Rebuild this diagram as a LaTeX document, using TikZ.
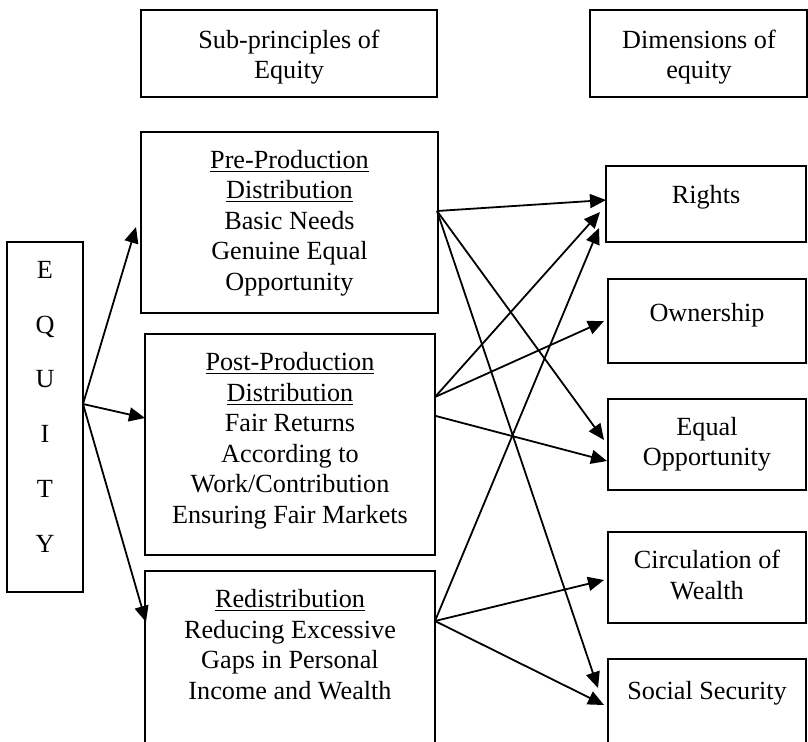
\documentclass[tikz,border=0pt]{standalone}
\usepackage{fontspec}
\setmainfont{Liberation Serif}
\usetikzlibrary{arrows.meta}
\tikzset{
  box/.style={draw, line width=1.2pt, rectangle, inner sep=0pt, outer sep=0pt},
  lbl/.style={anchor=north, inner sep=0pt, align=center, font=\fontsize{13.1pt}{15.3pt}\selectfont},
  conn/.style={line width=0.9pt, -{Triangle[length=8pt,width=7pt]}}
}
\begin{document}
\begin{tikzpicture}[x=0.5pt,y=-0.5pt]
\useasboundingbox (0,0) rectangle (808,741);
\clip (0,0) rectangle (808,741);
% boxes
\node[box, minimum width=148pt, minimum height=43.5pt] (sub) at (289,53.5) {};
\node[box, minimum width=108.5pt, minimum height=43.5pt] (dim) at (698.5,53.5) {};
\node[box, minimum width=38pt, minimum height=175pt] (eq) at (45,417) {};
\node[box, minimum width=148.5pt, minimum height=90.5pt] (pre) at (289.5,222.5) {};
\node[box, minimum width=145pt, minimum height=110.5pt] (post) at (290,444.5) {};
\node[box, minimum width=145pt, minimum height=94.5pt] (red) at (290,665.5) {};
\node[box, minimum width=100pt, minimum height=38pt] (rights) at (706,204) {};
\node[box, minimum width=99pt, minimum height=42pt] (own) at (707,321) {};
\node[box, minimum width=99pt, minimum height=45.5pt] (eqop) at (707,444.5) {};
\node[box, minimum width=99pt, minimum height=45.5pt] (circ) at (707,577.5) {};
\node[box, minimum width=99pt, minimum height=55.5pt] (soc) at (707,714.5) {};
% texts
\node[lbl] (subt) at (289,29.5) {Sub-principles of\\Equity};
\node[lbl] (dimt) at (699,29.5) {Dimensions of\\equity};
\node[lbl, font=\fontsize{13.1pt}{27.35pt}\selectfont] (eqt) at (45,261) {E\\Q\\U\\I\\T\\Y};
\node[lbl] (pret) at (289.5,149.5) {\underline{Pre-Production}\\\underline{Distribution}\\Basic Needs\\Genuine Equal\\Opportunity};
\node[lbl] (postt) at (290,352) {\underline{Post-Production}\\\underline{Distribution}\\Fair Returns\\According to\\Work/Contribution\\Ensuring Fair Markets};
\node[lbl] (redt) at (290,589) {\underline{Redistribution}\\Reducing Excessive\\Gaps in Personal\\Income and Wealth};
\node[lbl] (rightst) at (706,184.5) {Rights};
\node[lbl] (ownt) at (707,303) {Ownership};
\node[lbl] (eqopt) at (707,416.7) {Equal\\Opportunity};
\node[lbl] (circt) at (707,550) {Circulation of\\Wealth};
\node[lbl] (soct) at (707,680.7) {Social Security};
% connector ends
\coordinate (eqS) at (83,404);
\coordinate (preS) at (437,211);
\coordinate (postS1) at (435,397);
\coordinate (postS2) at (436,416);
\coordinate (redS) at (435,621);
\coordinate (preIn) at (136,227);
\coordinate (postIn) at (145,418);
\coordinate (redIn) at (146,622);
\coordinate (rA) at (606,200);
\coordinate (rB) at (600,212);
\coordinate (rC) at (599,228);
\coordinate (oA) at (604,321);
\coordinate (eA) at (604,440);
\coordinate (eB) at (607,461);
\coordinate (cA) at (604,580);
\coordinate (sA) at (598,688);
\coordinate (sB) at (604,705);
% connectors
\draw[conn] (eqS) -- (preIn);
\draw[conn] (eqS) -- (postIn);
\draw[conn] (eqS) -- (redIn);
\draw[conn] (preS) -- (rA);
\draw[conn] (preS) -- (eA);
\draw[conn] (preS) -- (sA);
\draw[conn] (postS1) -- (rB);
\draw[conn] (postS1) -- (oA);
\draw[conn] (postS2) -- (eB);
\draw[conn] (redS) -- (rC);
\draw[conn] (redS) -- (cA);
\draw[conn] (redS) -- (sB);
\end{tikzpicture}
\end{document}
